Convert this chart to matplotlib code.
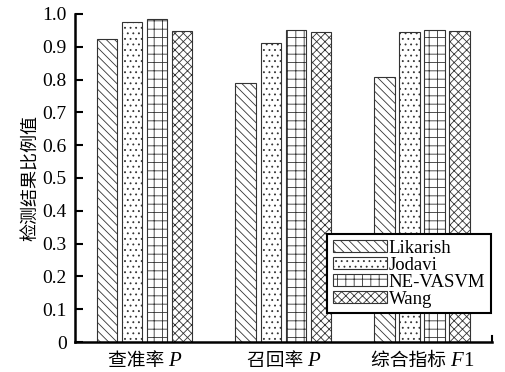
import numpy as np
import matplotlib
matplotlib.use("Agg")
import matplotlib.pyplot as plt
from matplotlib.offsetbox import TextArea, HPacker, AnnotationBbox

# Data
groups = [("查准率 ", "P", ""), ("召回率 ", "P", ""), ("综合指标 ", "F", "1")]
methods = ["Likarish", "Jodavi", "NE-VASVM", "Wang"]
likarish = [0.924, 0.790, 0.808]
jodavi = [0.976, 0.912, 0.945]
ne_vasvm = [0.985, 0.951, 0.951]
wang = [0.948, 0.945, 0.948]
hatches = ["\\\\\\\\", "...", "++", "xxxx"]

plt.rcParams["font.family"] = ["Liberation Serif", "Noto Sans CJK SC"]
plt.rcParams["hatch.linewidth"] = 0.6
plt.rcParams["hatch.color"] = "#333333"

fig = plt.figure(figsize=(5.05, 3.72), dpi=100)
ax = fig.add_axes([0.1485, 0.0806, 0.8255, 0.882])

series = [likarish, jodavi, ne_vasvm, wang]
x = np.arange(len(groups))
width = 0.15
gap = 0.03
for i, (vals, name, h) in enumerate(zip(series, methods, hatches)):
    offset = (i - 1.5) * (width + gap)
    ax.bar(x + offset, vals, width, label=name, hatch=h,
           facecolor="white", edgecolor="#333333", linewidth=0.8)

ax.set_xlim(-0.5, 2.5)
ax.set_ylim(0, 1.0)
ax.set_yticks(np.arange(0, 1.01, 0.1))
ax.set_yticklabels(["0"] + [f"{v:.1f}" for v in np.arange(0.1, 1.01, 0.1)])
ax.set_xticks(x)
ax.set_xticklabels([])
ax.tick_params(axis="y", direction="in", length=6, width=1.5, labelsize=14, pad=6)
ax.tick_params(axis="x", length=0)
ax.set_ylabel("检测结果比例值", fontsize=13, labelpad=2,
              family=["Noto Sans CJK SC"], fontweight="light")

# x tick labels: Chinese text + italic letter
cjk = dict(family=["Noto Sans CJK SC"], size=13.5, weight="light")
for xi, (zh, it, tail) in zip(x, groups):
    parts = [TextArea(zh, textprops=cjk),
             TextArea(it, textprops=dict(family="Liberation Serif", style="italic", size=15))]
    if tail:
        parts.append(TextArea(tail, textprops=dict(family="Liberation Serif", size=15)))
    box = HPacker(children=parts, align="baseline", pad=0, sep=0)
    ab = AnnotationBbox(box, (xi, 0), xycoords=("data", "axes fraction"),
                        xybox=(0, -6), boxcoords="offset points",
                        box_alignment=(0.5, 1), frameon=False, pad=0)
    ax.add_artist(ab)

for s in ["top", "right"]:
    ax.spines[s].set_visible(False)
for s in ["left", "bottom"]:
    ax.spines[s].set_linewidth(1.8)
ax.plot([1, 1], [0, 0.018], color="black", lw=1.5, transform=ax.transAxes, clip_on=False)

leg = ax.legend(loc="lower right", bbox_to_anchor=(0.998, 0.088), fontsize=13.5,
                fancybox=False, framealpha=1, edgecolor="black",
                handlelength=2.9, handleheight=0.6, handletextpad=0.1,
                labelspacing=0.0, borderpad=0.3, borderaxespad=0)
leg.get_frame().set_linewidth(1.5)

fig.savefig("out.png", dpi=100)
